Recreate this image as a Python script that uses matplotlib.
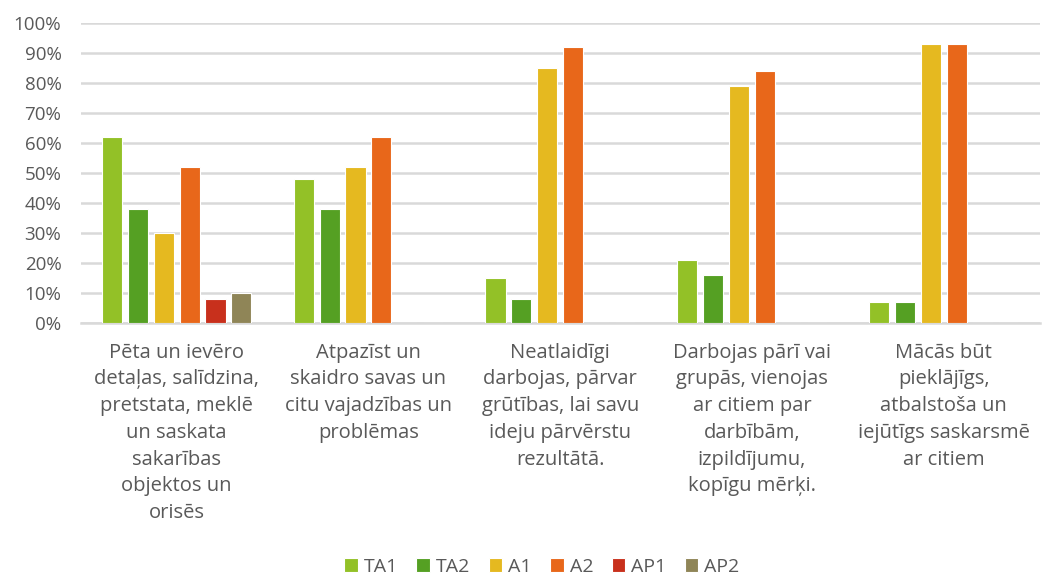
import matplotlib
matplotlib.use("Agg")
import matplotlib.pyplot as plt
import numpy as np
from matplotlib.ticker import FuncFormatter

categories = [
    "Pēta un ievēro\ndetaļas, salīdzina,\npretstata, meklē\nun saskata\nsakarības\nobjektos un\norisēs",
    "Atpazīst un\nskaidro savas un\ncitu vajadzības un\nproblēmas",
    "Neatlaidīgi\ndarbojas, pārvar\ngrūtības, lai savu\nideju pārvērstu\nrezultātā.",
    "Darbojas pārī vai\ngrupās, vienojas\nar citiem par\ndarbībām,\nizpildījumu,\nkopīgu mērķi.",
    "Mācās būt\npieklājīgs,\natbalstoša un\niejūtīgs saskarsmē\nar citiem",
]
series_names = ["TA1", "TA2", "A1", "A2", "AP1", "AP2"]
TA1 = [62, 48, 15, 21, 7]
TA2 = [38, 38, 8, 16, 7]
A1 = [30, 52, 85, 79, 93]
A2 = [52, 62, 92, 84, 93]
AP1 = [8, 0, 0, 0, 0]
AP2 = [10, 0, 0, 0, 0]
series_values = [TA1, TA2, A1, A2, AP1, AP2]
colors = ["#93c127", "#55a023", "#e5b920", "#e8671a", "#c8301c", "#8f8557"]

plt.rcParams['font.family'] = ['Open Sans', 'DejaVu Sans']
text_color = "#595959"

fig = plt.figure(figsize=(10.5, 5.76), dpi=100)
ax = fig.add_axes([0.077, 0.439, 0.913, 0.521])

x = np.arange(len(categories))
slot = 0.135
bw = 0.105
n = len(series_names)
for i, (name, vals, c) in enumerate(zip(series_names, series_values, colors)):
    offs = (i - (n - 1) / 2) * slot
    ax.bar(x + offs, vals, width=bw, color=c, edgecolor="white", linewidth=0.8,
           label=name, zorder=3)

ax.set_xlim(-0.5, len(categories) - 0.5)
ax.set_ylim(0, 100)
ax.set_yticks(np.arange(0, 101, 10))
ax.yaxis.set_major_formatter(FuncFormatter(lambda v, p: f"{int(v)}%"))
ax.grid(axis="y", color="#d9d9d9", linewidth=1.8, zorder=0)
for s in ["top", "right", "left"]:
    ax.spines[s].set_visible(False)
ax.spines["bottom"].set_color("#d9d9d9")
ax.spines["bottom"].set_linewidth(1.8)
ax.tick_params(axis="y", length=0, colors=text_color, labelsize=13.5, pad=14)
ax.set_xticks(x)
ax.set_xticklabels(categories, linespacing=1.45, va="top")
ax.tick_params(axis="x", length=0, colors=text_color, labelsize=14.5, pad=14)

handles, labels = ax.get_legend_handles_labels()
fig.legend(handles, labels, loc="lower center", bbox_to_anchor=(0.516, -0.03), ncol=6,
           frameon=False, fontsize=14, labelcolor=text_color,
           handlelength=0.7, handleheight=0.7, handletextpad=0.3, columnspacing=0.95)

fig.savefig("out.png", dpi=100, facecolor="white")
